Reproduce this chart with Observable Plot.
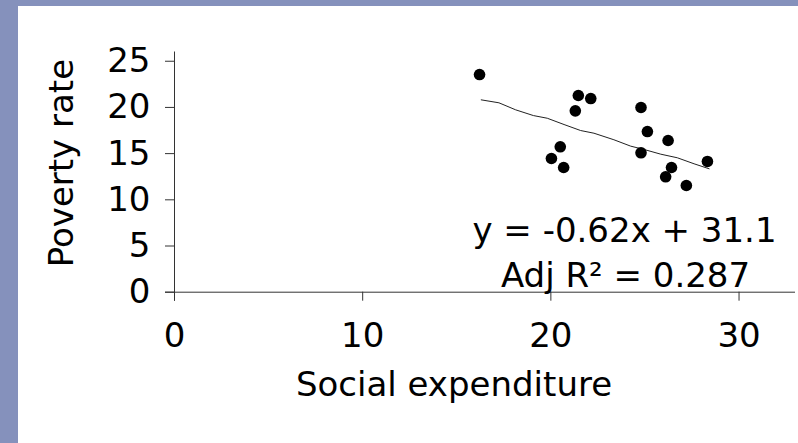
<!DOCTYPE html>
<html><head><meta charset="utf-8">
<script src="https://cdn.jsdelivr.net/npm/d3@7"></script>
<script src="https://cdn.jsdelivr.net/npm/@observablehq/plot@0.6"></script>
<style>
html,body{margin:0;padding:0;background:#8591bc;width:798px;height:443px;overflow:hidden}
#chart{position:absolute;left:18px;top:6px;width:780px;height:437px;background:#fff}
#chart svg{display:block}
</style></head><body><div id="chart"></div>
<script>
const socialExpenditure = [16.21, 21.46, 22.12, 21.30, 24.79, 25.13, 26.23, 20.50, 20.03, 20.68, 24.79, 28.32, 26.41, 26.10, 27.20];
const povertyRate      = [23.56, 21.29, 20.96, 19.63, 19.99, 17.39, 16.42, 15.74, 14.47, 13.50, 15.09, 14.15, 13.50, 12.49, 11.55];
const trendX = [16.30, 17.24, 18.13, 19.07, 19.81, 20.70, 21.58, 22.29, 23.35, 24.24, 24.95, 25.84, 26.72, 27.61, 28.41];
const trendY = [20.82, 20.50, 19.74, 19.12, 18.83, 18.15, 17.50, 17.21, 16.50, 15.81, 15.45, 14.94, 14.55, 13.90, 13.36];
const xTicks = [0, 10, 20, 30];
const yTicks = [0, 5, 10, 15, 20, 25];
const xLabel = "Social expenditure";
const yLabel = "Poverty rate";
const equationText = "y = -0.62x + 31.1";
const r2Text = "Adj R\u00B2 = 0.287";

const points = socialExpenditure.map((x, i) => ({x, y: povertyRate[i]}));
const trend = trendX.map((x, i) => ({x, y: trendY[i]}));

const FS = 34;
const chart = Plot.plot({
  width: 780,
  height: 437,
  marginLeft: 156,
  marginRight: 3,
  marginTop: 45.5,
  marginBottom: 151.3,
  style: {fontFamily: "DejaVu Sans", fontSize: FS + "px", color: "#000", background: "transparent", overflow: "visible"},
  x: {domain: [0, 33]},
  y: {domain: [0, 26]},
  marks: [
    Plot.axisX({ticks: xTicks, tickSize: 9, tickPadding: 22, label: null, stroke: "#333", fill: "#000", fontSize: FS}),
    Plot.axisY({ticks: yTicks, tickSize: 9, tickPadding: 15, label: null, stroke: "#333", fill: "#000", fontSize: FS}),
    Plot.ruleX([0], {stroke: "#333", insetBottom: -9}),
    Plot.ruleY([0], {stroke: "#333", insetLeft: -9}),
    Plot.line(trend, {x: "x", y: "y", stroke: "#222", strokeWidth: 1}),
    Plot.dot(points, {x: "x", y: "y", r: 5.8, fill: "#000", stroke: "none"}),
    Plot.text([xLabel], {text: d => d, frameAnchor: "bottom", textAnchor: "middle", lineAnchor: "top", dx: -31, dy: 80, fontSize: FS, fill: "#000"}),
    Plot.text([yLabel], {text: d => d, frameAnchor: "left", textAnchor: "middle", rotate: -90, lineAnchor: "middle", dx: -112, dy: -9, fontSize: FS, fill: "#000"}),
    Plot.text([equationText], {text: d => d, frameAnchor: "bottom-right", textAnchor: "middle", lineAnchor: "top", dx: -171, dy: -74.5, fontSize: FS, fill: "#000"}),
    Plot.text([r2Text], {text: d => d, frameAnchor: "bottom-right", textAnchor: "middle", lineAnchor: "top", dx: -170, dy: -29.5, fontSize: FS, fill: "#000"})
  ]
});
document.getElementById("chart").appendChild(chart);
</script>
</body></html>
